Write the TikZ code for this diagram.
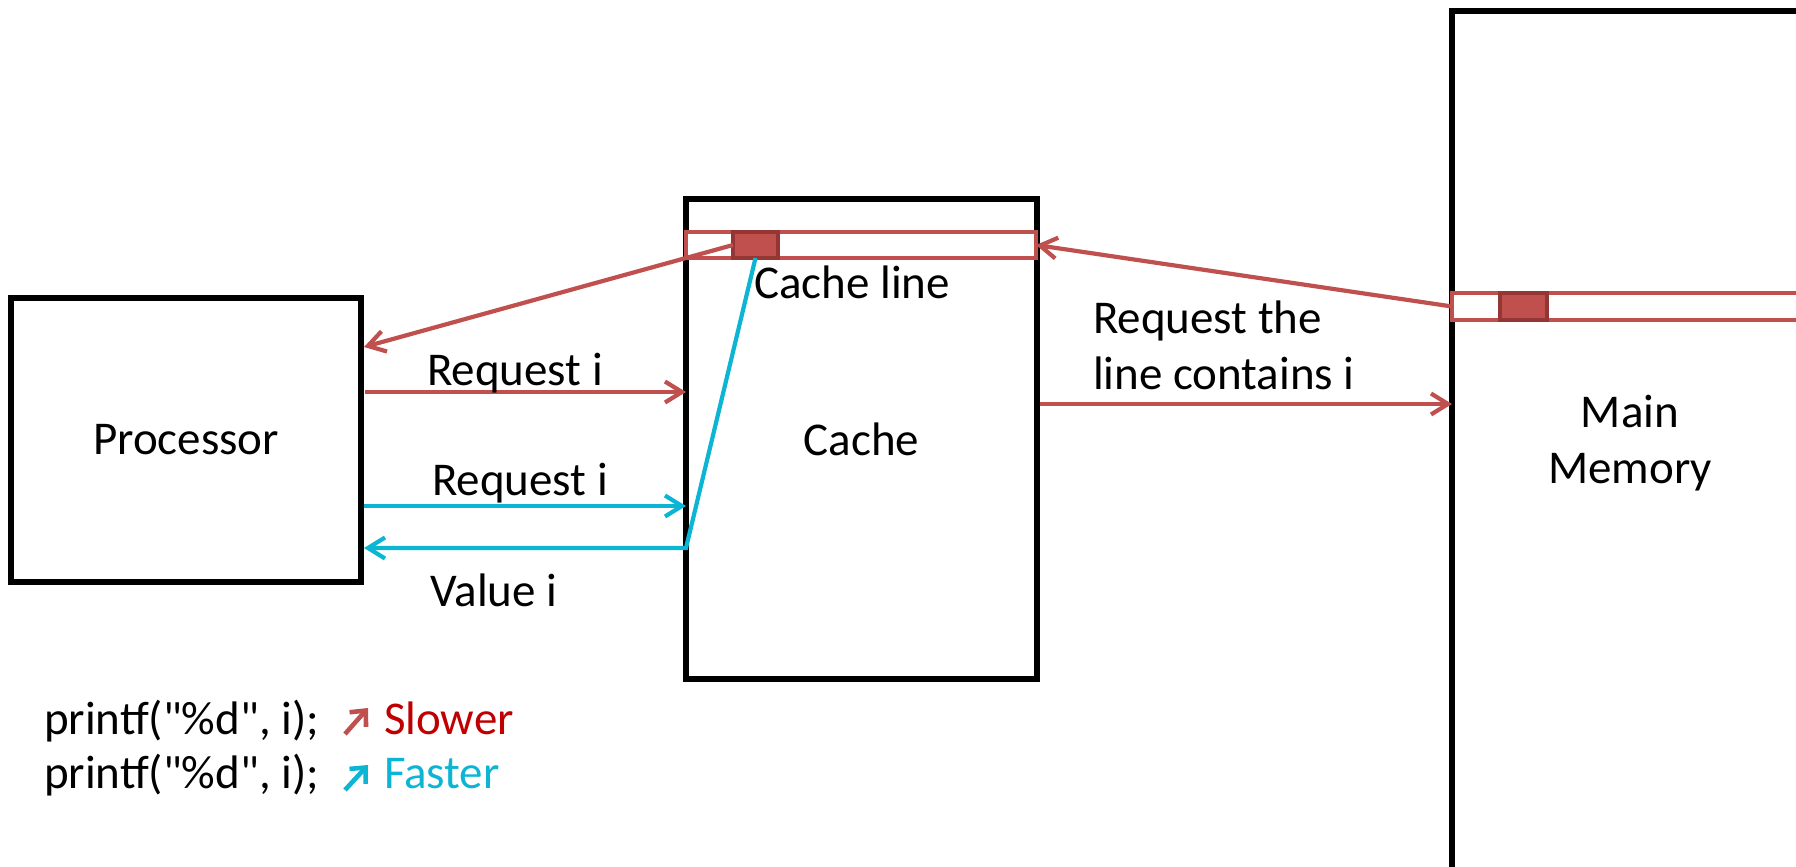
\documentclass[tikz,border=0pt]{standalone}
\usepackage{fontspec}
\setmainfont{Carlito}
\newfontfamily\plainfont{Carlito}
\usetikzlibrary{arrows.meta,calc}
\definecolor{linered}{HTML}{C0504D}
\definecolor{slotborder}{HTML}{943634}
\definecolor{textred}{HTML}{C00000}
\definecolor{fastcyan}{HTML}{0BB5D3}
\begin{document}
\begin{tikzpicture}[x=0.5pt,y=-0.5pt,
  every node/.style={font=\plainfont\fontsize{23.5}{28}\selectfont, inner sep=0pt, outer sep=0pt},
  unitbox/.style={draw=black, line width=2.7pt},
  linebox/.style={draw=linered, line width=2.3pt, fill=white},
  slotbox/.style={draw=slotborder, line width=2.4pt, fill=linered},
  tip/.style={-{Straight Barb[length=8.5pt,width=10.5pt]}},
  smalltip/.style={-{Straight Barb[length=6pt,width=11pt]}},
  slowflow/.style={draw=linered, line width=2.1pt},
  fastflow/.style={draw=fastcyan, line width=2.1pt},
  lbl/.style={anchor=base}
]
\useasboundingbox (0,0) rectangle (1796,867);

% units
\node[unitbox, minimum width=175pt, minimum height=142pt] (proc) at (186,440) {Processor};
\node[unitbox, minimum width=175.5pt, minimum height=240pt] (cache) at (861.5,439) {Cache};
\node[unitbox, minimum width=224pt, minimum height=469pt] (mem) at (1676,480) {};
\node[lbl] (memA) at (1630,427) {Main};
\node[lbl] (memB) at (1630,483) {Memory};

% y levels of the horizontal connectors
\coordinate (yR) at (0,347);
\coordinate (yA) at (0,392);
\coordinate (yC) at (0,506);
\coordinate (yV) at (0,548);
\coordinate (yM) at (0,404);

% cache line and memory line
\node[linebox, minimum width=175pt, minimum height=13pt] (cline) at (861,245) {};
\node[linebox, minimum width=224pt, minimum height=13.5pt] (mline) at (1676,306.5) {};
\node[slotbox, minimum width=22.5pt, minimum height=13pt] (cslot) at (755.5,245) {};
\node[slotbox, minimum width=23.5pt, minimum height=13.5pt] (mslot) at (1523.5,306.5) {};

% slow path
\draw[slowflow, tip] (mline.west) -- (cline.east);
\draw[slowflow, tip] (cslot.west) -- ($(proc.east |- yR)+(3,0)$);
\draw[slowflow, tip] ($(proc.east |- yA)+(4,0)$) -- (cache.west |- yA);
\draw[slowflow, tip] ($(cache.east |- yM)+(3,0)$) -- (mem.west |- yM);

% fast path
\draw[fastflow, tip] ($(proc.east |- yC)+(3,0)$) -- (cache.west |- yC);
\draw[fastflow, tip] (cslot.south) -- (cache.west |- yV) -- ($(proc.east |- yV)+(3,0)$);

% labels
\node[lbl] (clinelbl) at (852,298) {Cache line};
\node[lbl] (reqA) at (515,385) {Request i};
\node[lbl] (reqC) at (520,495) {Request i};
\node[lbl] (val) at (494,606) {Value i};
\node[anchor=base west] (reqM1) at (1093,333) {Request the};
\node[anchor=base west] (reqM2) at (1093,389) {line contains i};

% legend
\node[anchor=base west] (code1) at (44,734) {printf("\%d", i);};
\node[anchor=base west] (code2) at (44,788) {printf("\%d", i);};
\coordinate (s0) at (345,734);
\coordinate (s1) at (368,708);
\coordinate (f0) at (345,790);
\coordinate (f1) at (368,765);
\draw[slowflow, line width=2.3pt, smalltip] (s0) -- (s1);
\draw[fastflow, line width=2.3pt, smalltip] (f0) -- (f1);
\node[anchor=base west, text=textred] (slow) at (384,734) {Slower};
\node[anchor=base west, text=fastcyan] (fast) at (384,788) {Faster};
\end{tikzpicture}
\end{document}
